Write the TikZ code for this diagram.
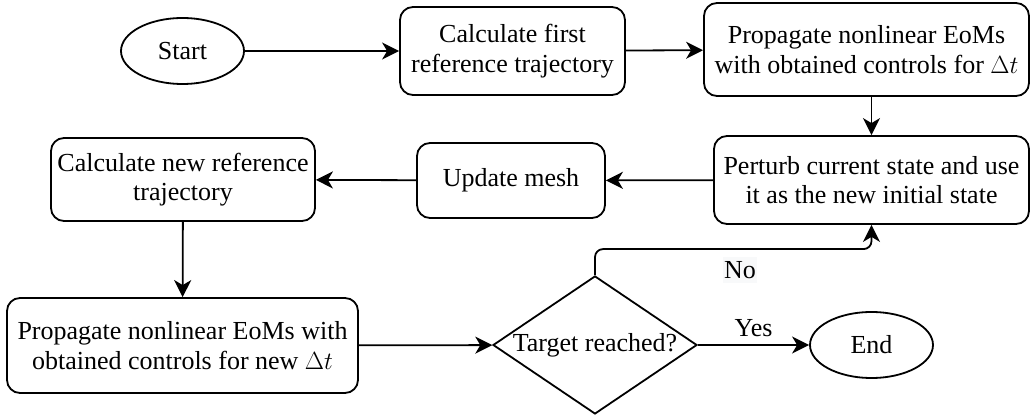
\documentclass[tikz,border=0pt]{standalone}
\usepackage{fontspec}
\setmainfont{Liberation Serif}
\usetikzlibrary{shapes.geometric,arrows.meta,calc}
\definecolor{lblbg}{RGB}{248,249,250}
\begin{document}
\begin{tikzpicture}[x=1pt,y=1pt,
  every node/.style={font=\fontsize{26}{29.5}\selectfont},
  box/.style={draw, line width=1.8pt, rounded corners=13pt, align=center, inner sep=0pt},
  term/.style={draw, line width=1.8pt, ellipse, inner sep=0pt, minimum width=123pt, minimum height=66pt},
  arr/.style={line width=1.8pt, -{Stealth[length=17pt,width=17pt,inset=5pt]}},
  lbl/.style={inner sep=1pt}]
\useasboundingbox (0,0) rectangle (1031,420);
\node[term] (start) at (182.5,369) {Start};
\node[box, minimum width=225pt, minimum height=88pt] (b1) at (512.5,369) {Calculate first\\reference trajectory};
\node[box, minimum width=325pt, minimum height=93pt] (b2) at (866.5,370.5) {Propagate nonlinear EoMs\\with obtained controls for $\Delta t$};
\node[box, minimum width=315pt, minimum height=88pt] (b3) at (871.5,240) {Perturb current state and use\\it as the new initial state};
\node[box, minimum width=188pt, minimum height=75pt] (b4) at (511,239.5) {Update mesh};
\node[box, minimum width=264pt, minimum height=83pt] (b5) at (183,240.5) {Calculate new reference\\trajectory};
\node[box, minimum width=351pt, minimum height=95pt] (b6) at (182.5,74.5) {Propagate nonlinear EoMs with\\obtained controls for new $\Delta t$};
\node[draw, line width=1.8pt, diamond, inner sep=0pt, aspect=1.478, minimum width=204pt, minimum height=138pt] (d) at (595,75) {Target reached?};
\node[term] (end) at (871.5,75) {End};
\node[lbl, fill=lblbg, inner xsep=1pt, inner ysep=4pt] (nolbl) at (740,150) {No};
\draw[arr] (start) -- (b1);
\draw[arr] (b1) -- (b2);
\draw[arr] (b3.north |- b2.south) -- (b3.north);
\draw[arr] (b3) -- (b4);
\draw[arr] (b4) -- (b5);
\draw[arr] (b5) -- (b6);
\draw[arr] (b6) -- (d);
\draw[arr] (d) -- node[lbl, above=6pt] {Yes} (end);
\draw[arr, rounded corners=8pt] (d.north) -- ++(0,26) -| (b3.south);
\end{tikzpicture}
\end{document}
